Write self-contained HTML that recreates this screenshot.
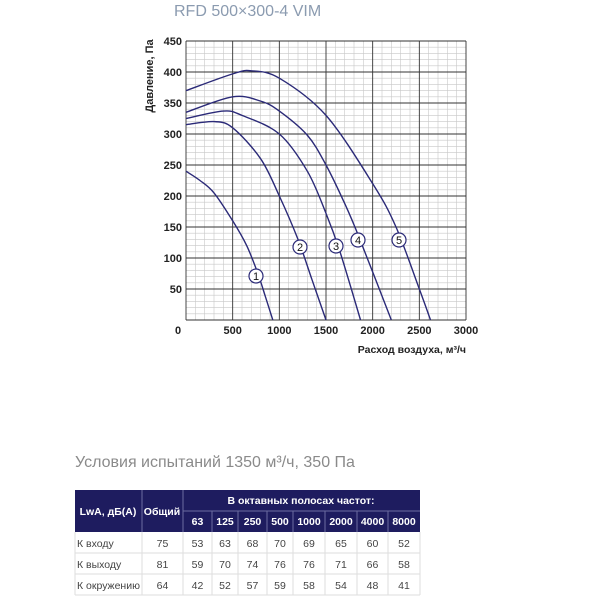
<!DOCTYPE html>
<html><head><meta charset="utf-8"><style>
body{margin:0;background:#fff;}
svg{display:block;font-family:"Liberation Sans",sans-serif;}
</style></head><body>
<svg id="s" width="600" height="600" viewBox="0 0 600 600" xmlns="http://www.w3.org/2000/svg">
<text x="174" y="16" font-size="16" fill="#8b9bb0">RFD 500×300-4 VIM</text>
<g id="grid"></g>
<g id="curves" fill="none" stroke="#2b2a78" stroke-width="1.4"></g>
<g id="lab"></g>
<g font-size="11" font-weight="bold" fill="#222" text-anchor="end" id="yt"></g>
<g font-size="11" font-weight="bold" fill="#222" text-anchor="middle" id="xt"></g>
<text transform="translate(153,76) rotate(-90)" font-size="11" font-weight="bold" fill="#222" text-anchor="middle">Давление, Па</text>
<text x="466" y="353" font-size="10.5" font-weight="bold" fill="#222" text-anchor="end">Расход воздуха, м³/ч</text>
<text x="75" y="467" font-size="16" fill="#8a8a8a">Условия испытаний 1350 м³/ч, 350 Па</text>
<g id="tbl"></g>
</svg>
<script>
const NS="http://www.w3.org/2000/svg";
function el(p,t,a,txt){const e=document.createElementNS(NS,t);for(const k in a)e.setAttribute(k,a[k]);if(txt!==undefined)e.textContent=txt;p.appendChild(e);return e;}
const X=v=>186+v*280/3000, Y=v=>320-v*279/450;
const g=document.getElementById('grid');
for(let v=0;v<=3000;v+=100){if(v%500)el(g,'line',{x1:X(v),x2:X(v),y1:41,y2:320,stroke:'#c8c8c8','stroke-width':0.6});}
for(let v=0;v<=450;v+=10){if(v%50)el(g,'line',{y1:Y(v),y2:Y(v),x1:186,x2:466,stroke:'#c8c8c8','stroke-width':0.6});}
for(let v=0;v<=3000;v+=500)el(g,'line',{x1:X(v),x2:X(v),y1:41,y2:320,stroke:'#333','stroke-width':0.9});
for(let v=0;v<=450;v+=50)el(g,'line',{y1:Y(v),y2:Y(v),x1:186,x2:466,stroke:'#333','stroke-width':0.9});
const yt=document.getElementById('yt');for(let v=50;v<=450;v+=50)el(yt,'text',{x:182,y:Y(v)+4},String(v));
const xt=document.getElementById('xt');for(let v=0;v<=3000;v+=500)el(xt,'text',{x:v==0?178:X(v),y:334},String(v));
const C=[
[[0,240],[150,225],[300,205],[500,160],[650,120],[770,75],[850,38],[930,0]],
[[0,315],[300,320],[500,310],[800,260],[1000,200],[1200,130],[1350,65],[1500,0]],
[[0,325],[400,337],[600,330],[1000,300],[1300,240],[1500,172],[1650,110],[1870,0]],
[[0,335],[500,360],[800,353],[1000,337],[1300,298],[1500,250],[1700,188],[1850,135],[2200,0]],
[[0,370],[500,397],[700,402],[1000,390],[1500,330],[2000,220],[2250,150],[2500,50],[2620,0]]];
const cg=document.getElementById('curves');
C.forEach(c=>{const p=c.map(q=>[X(q[0]),Y(q[1])]);let d='M'+p[0][0]+','+p[0][1];
for(let i=0;i<p.length-1;i++){const p0=p[Math.max(0,i-1)],p1=p[i],p2=p[i+1],p3=p[Math.min(p.length-1,i+2)];
const c1=[p1[0]+(p2[0]-p0[0])/6,p1[1]+(p2[1]-p0[1])/6],c2=[p2[0]-(p3[0]-p1[0])/6,p2[1]-(p3[1]-p1[1])/6];
d+=` C${c1[0]},${c1[1]} ${c2[0]},${c2[1]} ${p2[0]},${p2[1]}`;}
el(cg,'path',{d});});
const lab=document.getElementById('lab');
[[256,276,1],[300,247,2],[336,246,3],[358,240,4],[399,240,5]].forEach(a=>{
el(lab,'circle',{cx:a[0],cy:a[1],r:7,fill:'#fff',stroke:'#2b2a78','stroke-width':1.2});
el(lab,'text',{x:a[0],y:a[1]+4,'font-size':11,'text-anchor':'middle',fill:'#111'},String(a[2]));});
// table
const t=document.getElementById('tbl');const navy='#1e1c5f';
const cx=[75,142,183,212,238,267,293,325,357,388,420];
el(t,'rect',{x:75,y:490,width:345,height:42,fill:navy});
const wl={stroke:'#6c6ca0','stroke-width':1};
el(t,'line',Object.assign({x1:142,x2:142,y1:490,y2:532},wl));
el(t,'line',Object.assign({x1:183,x2:183,y1:490,y2:532},wl));
el(t,'line',Object.assign({x1:183,x2:420,y1:511,y2:511},wl));
for(let i=3;i<10;i++)el(t,'line',Object.assign({x1:cx[i],x2:cx[i],y1:511,y2:532},wl));
const hs={fill:'#fff','font-size':10.5,'font-weight':'bold','text-anchor':'middle'};
el(t,'text',Object.assign({x:108,y:515},hs),'LwA, дБ(А)');
el(t,'text',Object.assign({x:162,y:515},hs),'Общий');
el(t,'text',Object.assign({x:301,y:504},hs),'В октавных полосах частот:');
['63','125','250','500','1000','2000','4000','8000'].forEach((s,i)=>el(t,'text',Object.assign({x:(cx[i+2]+cx[i+3])/2,y:525},hs),s));
const rows=[['К входу',75,53,63,68,70,69,65,60,52],['К выходу',81,59,70,74,76,76,71,66,58],['К окружению',64,42,52,57,59,58,54,48,41]];
rows.forEach((r,j)=>{const y0=532+j*21;
el(t,'line',{x1:75,x2:420,y1:y0+21,y2:y0+21,stroke:'#ddd'});
el(t,'text',{x:77,y:y0+15,'font-size':10.5,fill:'#444'},r[0]);
for(let i=1;i<10;i++)el(t,'text',{x:(cx[i]+cx[i+1])/2,y:y0+15,'font-size':10.5,fill:'#444','text-anchor':'middle'},String(r[i]));});
for(let i=0;i<11;i++)el(t,'line',{x1:cx[i],x2:cx[i],y1:532,y2:595,stroke:'#ddd'});
</script>
</body></html>
